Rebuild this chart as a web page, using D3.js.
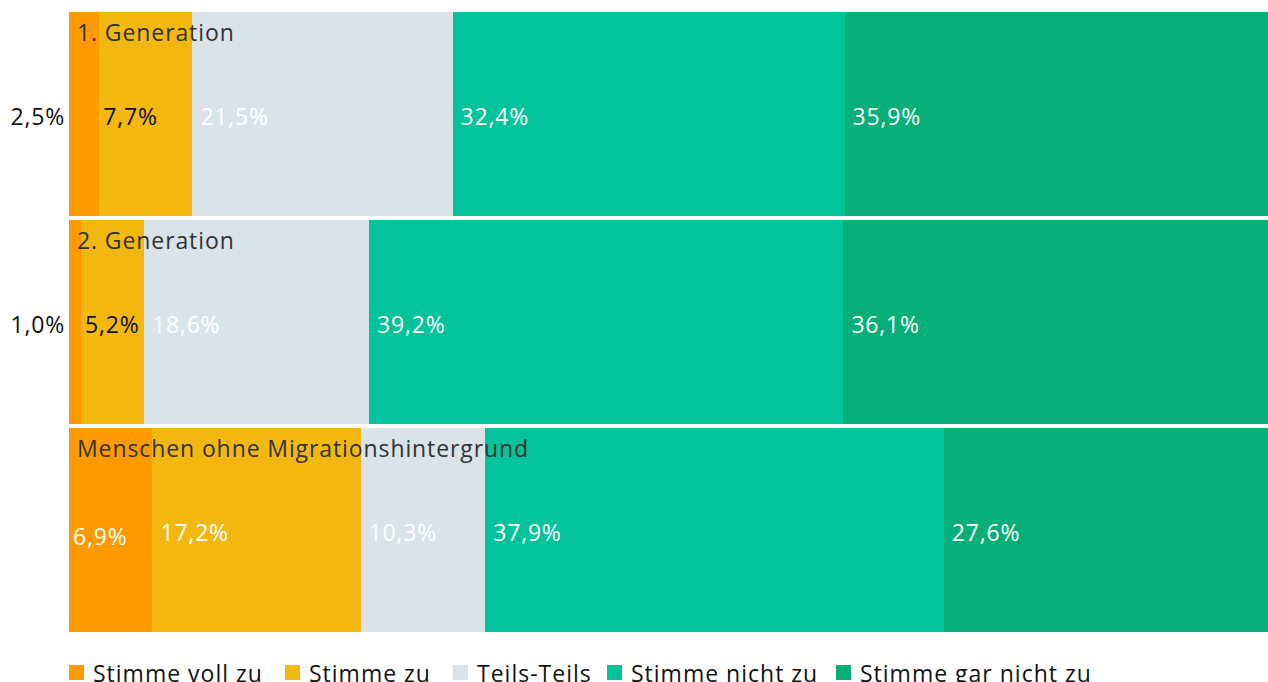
<!DOCTYPE html>
<html><head><meta charset="utf-8">
<script src="https://cdn.jsdelivr.net/npm/d3@7"></script>
<style>html,body{margin:0;padding:0;background:#fff;overflow:hidden}svg{display:block}</style>
</head><body>
<script>
const groups = ["1. Generation", "2. Generation", "Menschen ohne Migrationshintergrund"];
const seriesNames = ["Stimme voll zu", "Stimme zu", "Teils-Teils", "Stimme nicht zu", "Stimme gar nicht zu"];
const vollZu = [2.5, 1.0, 6.9];
const zu = [7.7, 5.2, 17.2];
const teils = [21.5, 18.6, 10.3];
const nicht = [32.4, 39.2, 37.9];
const garNicht = [35.9, 36.1, 27.6];
const colors = ["#FE9A00", "#F2B811", "#D9E3E8", "#02C39A", "#06AF77"];

const W = 1268, H = 682;
const svg = d3.select("body").append("svg").attr("width", W).attr("height", H)
  .style("font-family", "'Open Sans', sans-serif");

const seriesArr = [vollZu, zu, teils, nicht, garNicht];
const table = groups.map((g, i) => {
  const o = {group: g};
  seriesNames.forEach((s, j) => o[s] = seriesArr[j][i]);
  return o;
});
const stack = d3.stack().keys(seriesNames)(table);

const x = d3.scaleLinear().domain([0, 100]).range([69, 1279]);
const y = d3.scaleBand().domain(groups).range([12, 632]).paddingInner(0.02);

const fmt = v => d3.format(".1f")(v).replace(".", ",") + "%";

const g = svg.append("g").attr("shape-rendering", "crispEdges");
stack.forEach((layer, j) => {
  g.selectAll(null).data(layer).enter().append("rect")
    .attr("x", d => x(d[0]))
    .attr("y", d => y(d.data.group))
    .attr("width", d => x(d[1]) - x(d[0]))
    .attr("height", y.bandwidth())
    .attr("fill", colors[j]);
});

// value labels
stack.forEach((layer, j) => {
  layer.forEach((d, i) => {
    const v = d[1] - d[0];
    const w = x(d[1]) - x(d[0]);
    const cy = y(d.data.group) + y.bandwidth() / 2 + 3;
    let tx, anchor = "start", fill = "#fff", dy = 0;
    if (w < 40) { tx = x(d[0]) - 4; anchor = "end"; fill = "#111"; }
    else if (w < 100) { tx = x(d[0]) + 4; }
    else { tx = x(d[0]) + 8; }
    if (j === 1 && i < 2) fill = "#111";
    if (j === 0 && i === 2) dy = 4;
    svg.append("text").attr("x", tx).attr("y", cy + dy).attr("dy", "0.35em")
      .attr("text-anchor", anchor).attr("fill", fill)
      .style("font-size", "23px").style("letter-spacing", "0.8px").text(fmt(v));
  });
});

// group titles
groups.forEach(gname => {
  svg.append("text").attr("x", 77).attr("y", y(gname) + 21).attr("dy", "0.35em")
    .attr("fill", "#333").style("font-size", "23px").style("letter-spacing", "0.9px").text(gname);
});

// legend
const legX = [69, 285, 453, 607, 836];
seriesNames.forEach((s, j) => {
  svg.append("rect").attr("x", legX[j]).attr("y", 665).attr("width", 15).attr("height", 15).attr("fill", colors[j]);
  svg.append("text").attr("x", legX[j] + 24).attr("y", 682).attr("fill", "#111")
    .style("font-size", "23px").style("letter-spacing", "1px").text(s);
});
</script>
</body></html>
